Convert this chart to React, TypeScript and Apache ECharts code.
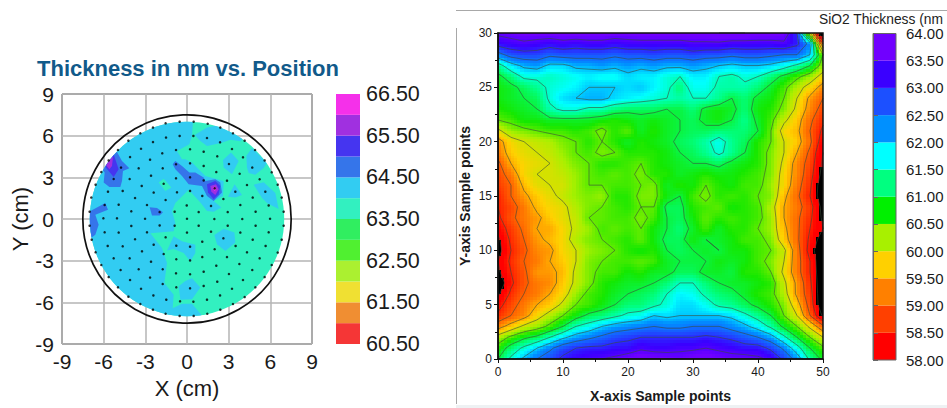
import React, { useEffect, useRef } from "react";
import * as echarts from "echarts";

const FONT = "Liberation Sans";

// ---------- left chart data (cm) ----------
const leftLegendValues = [60.5, 61, 61.5, 62, 62.5, 63, 63.5, 64, 64.5, 65, 65.5, 66, 66.5];
const leftLegendColors = ["#F53636", "#F08E32", "#F0E032", "#ABF030", "#50F030", "#30EE60", "#32F0C0", "#32CCF2", "#3575EA", "#4535F0", "#A030E0", "#F530EA"];
const AQUA = "#32F0C0", SKY = "#32CCF2", BLUE = "#3575EA", INDIGO = "#4535F0", PURPLE = "#A030E0", MAGENTA = "#F530EA";

const skyMain = [[0.43,8.11],[-8.64,8.11],[-8.64,-8.21],[0.96,-8.21],[1.03,-6.89],[0.36,-6.1],[-0.36,-6.1],[-1.03,-6.43],[-0.96,-5.45],[-1.63,-4.61],[-1.44,-3.17],[-1.8,-2.09],[-2.64,-1.03],[-0.96,-0.89],[-0.84,-0.29],[-1.08,0.55],[-0.84,1.15],[0.12,2.11],[0.96,1.18],[1.44,0.58],[1.92,0.53],[2.47,0.82],[1.92,1.3],[2.59,1.66],[2.64,2.74],[1.32,3.1],[0.36,4.06],[-0.12,4.3],[-0.36,4.3],[-0.72,4.9],[0.17,5.38],[0.36,6],[0.43,7.03]];
const skyTop = [[0.55,6.05],[1.44,6.58],[2.4,6.79],[3.12,6.55],[4.08,5.83],[3.84,5.59],[3.12,5.71],[2.45,5.47],[1.44,5.26],[0.96,5.62]];
const skyB = [[2.59,4.25],[3.17,4.78],[3.72,4.18],[3.24,3.22],[2.64,3.7]];
const skyC = [[4.27,4.54],[4.68,5.11],[5.76,4.03],[5.52,3.67],[4.92,3.19],[4.44,3.31],[4.32,3.7]];
const skyD = [[2.95,1.61],[3.43,2.5],[3.96,1.73],[3.48,1.54]];
const skyE = [[4.8,2.47],[5.52,2.64],[6.36,1.87],[6.6,0.72],[5.76,1.15],[5.4,1.51]];
const skyG = [[1.97,-1.15],[2.64,-0.7],[3.41,-0.98],[3.48,-1.7],[2.76,-2.3],[2.16,-1.82]];
const skyH = [[-1.44,-2.26],[-0.96,-1.25],[-0.36,-1.61],[0.6,-1.85],[0.6,-2.45],[0.24,-3.05],[-0.24,-2.45],[-0.96,-2.16]];
const skyI = [[-0.6,-4.85],[-0.12,-4.46],[0.36,-4.27],[0.96,-4.94],[0.36,-5.78],[-0.48,-5.81]];
const aquaBlob = [[-2.04,2.62],[-1.68,2.9],[-1.13,2.26],[-1.56,2.02]];
const ridgeBlue = [[-1.03,3.94],[-0.84,4.18],[-0.36,3.82],[0.17,3.34],[0.6,3.34],[1.2,2.98],[1.32,2.74],[2.04,2.86],[2.4,2.62],[2.52,1.9],[1.92,1.3],[1.44,1.66],[1.08,2.38],[0.12,2.5],[-0.36,3.1],[-0.84,3.58]];
const peakIndigo = [[1.44,2.5],[2.04,2.74],[2.4,2.38],[2.28,1.78],[1.92,1.42],[1.51,1.9]];
const peakPurple = [[1.68,2.38],[2.09,2.5],[2.28,2.14],[2.04,1.73],[1.75,1.97]];
const peakMagenta = [[1.85,2.28],[2.06,2.33],[2.09,2.11],[1.97,2.02]];
const leftBlue = [[-6.48,4.03],[-5.28,4.99],[-5.04,4.82],[-4.68,4.18],[-4.15,3.65],[-4.61,3.46],[-4.68,2.74],[-4.8,2.3],[-5.59,2.3],[-6,2.62],[-5.93,3.34]];
const leftIndigo = [[-5.28,4.66],[-5.04,3.94],[-4.92,3.58],[-5.28,3.02],[-5.88,3.74],[-5.52,4.3]];
const leftPurple = [[-5.59,4.37],[-5.33,4.46],[-5.4,3.82],[-5.59,3.58],[-5.83,3.89]];
const midBlue = [[-7.44,0.31],[-5.88,1.15],[-5.69,0.67],[-6.6,0.31],[-6.36,-0.41],[-6.6,-1.13],[-7.08,-1.49],[-7.44,-1.01]];
const smallBlue = [[-2.69,0.84],[-2.16,0.79],[-1.73,0.48],[-1.97,0.26],[-2.52,0.26]];

const regions: { fill: string; points: number[][] }[] = [
  { fill: SKY, points: skyMain }, { fill: SKY, points: skyTop }, { fill: SKY, points: skyB }, { fill: SKY, points: skyC },
  { fill: SKY, points: skyD }, { fill: SKY, points: skyE }, { fill: SKY, points: skyG }, { fill: SKY, points: skyH }, { fill: SKY, points: skyI },
  { fill: AQUA, points: aquaBlob },
  { fill: BLUE, points: ridgeBlue }, { fill: BLUE, points: leftBlue }, { fill: BLUE, points: midBlue }, { fill: BLUE, points: smallBlue },
  { fill: INDIGO, points: peakIndigo }, { fill: INDIGO, points: leftIndigo },
  { fill: PURPLE, points: peakPurple }, { fill: PURPLE, points: leftPurple },
  { fill: MAGENTA, points: peakMagenta },
];

const samplePoints = [
  [-0.53,7.01],[-1.54,6.89],[-2.45,6.58],[-3.36,6.17],[-4.22,5.64],[-4.97,4.97],[-5.64,4.22],[-6.17,3.38],[-6.58,2.47],[-6.89,1.54],[-7.01,0.53],
  [-0.53,5.98],[-1.51,5.86],[-2.45,5.54],[-3.31,5.06],[-4.1,4.46],[-4.75,3.7],[-5.28,2.88],[-5.69,1.97],[-5.93,1.01],[-6.02,0.05],
  [-0.79,4.97],[-1.78,4.73],[-2.66,4.27],[-3.48,3.65],[-4.13,2.88],[-4.63,2.02],[-4.92,1.03],[-5.04,0.05],
  [-0.79,3.94],[-1.75,3.65],[-2.59,3.12],[-3.26,2.38],[-3.74,1.51],[-4.01,0.55],
  [-0.79,2.93],[-1.68,2.54],[-2.4,1.9],[-2.88,1.01],[-3.02,0.02],
  [-0.72,1.92],[-1.54,1.37],[-1.97,0.5],[-0.89,0.53],[-0.02,0.98],[0,0.02],
  [0.48,7.01],[1.49,6.86],[2.4,6.58],[3.31,6.17],[4.15,5.64],[4.9,4.97],[5.59,4.22],[6.1,3.36],[6.53,2.47],[6.82,1.54],[6.96,0.53],
  [0.46,5.98],[1.44,5.83],[2.38,5.52],[3.24,5.04],[4.03,4.44],[4.7,3.7],[5.23,2.86],[5.64,1.97],[5.88,0.98],[5.98,0.02],
  [0.22,5.02],[1.2,4.85],[2.18,4.51],[3.02,3.96],[3.79,3.26],[4.32,2.45],[4.73,1.54],[4.94,0.53],
  [0.22,4.01],[1.2,3.82],[2.11,3.38],[2.88,2.76],[3.48,1.97],[3.84,1.01],[3.98,0],
  [0.22,3],[1.2,2.78],[1.99,2.21],[2.62,1.44],[2.93,0.5],
  [0.22,2.02],[1.1,1.66],[1.73,0.94],[1.97,0],[0.84,0.5],
  [-7.01,-0.48],[-6.86,-1.49],[-6.58,-2.4],[-6.17,-3.31],[-5.64,-4.18],[-4.97,-4.92],[-4.22,-5.59],[-3.36,-6.12],[-2.45,-6.53],[-1.54,-6.82],[-0.53,-6.98],
  [-5.93,-0.96],[-5.71,-1.94],[-5.28,-2.83],[-4.78,-3.67],[-4.1,-4.39],[-3.31,-5.02],[-2.42,-5.5],[-1.49,-5.81],[-0.5,-5.93],
  [-4.92,-0.98],[-4.63,-1.97],[-4.13,-2.83],[-3.48,-3.62],[-2.66,-4.22],[-1.75,-4.68],[-0.77,-4.92],
  [-4.01,-0.5],[-3.74,-1.46],[-3.24,-2.33],[-2.59,-3.07],[-1.75,-3.62],[-0.79,-3.91],
  [-2.88,-0.96],[-2.4,-1.85],[-1.68,-2.52],[-0.77,-2.9],
  [-1.97,-0.46],[-1.54,-1.32],[-0.77,-1.92],[-0.89,-0.48],[0,-0.98],
  [6.96,-0.48],[6.82,-1.49],[6.53,-2.42],[6.1,-3.31],[5.59,-4.18],[4.92,-4.92],[4.15,-5.62],[3.31,-6.12],[2.4,-6.53],[1.46,-6.82],[0.48,-6.98],
  [5.88,-0.96],[5.66,-1.94],[5.23,-2.83],[4.7,-3.67],[4.03,-4.39],[3.24,-5.02],[2.38,-5.5],[1.44,-5.81],[0.46,-5.95],
  [4.94,-0.48],[4.73,-1.49],[4.32,-2.4],[3.77,-3.24],[3.02,-3.96],[2.18,-4.51],[1.2,-4.82],[0.22,-4.99],
  [3.84,-0.98],[3.5,-1.94],[2.88,-2.74],[2.11,-3.36],[1.2,-3.79],[0.22,-3.98],
  [2.93,-0.48],[2.62,-1.39],[1.99,-2.18],[1.1,-2.74],[0.22,-2.98],
  [1.73,-0.91],[1.1,-1.63],[0.22,-1.99],[0.84,-0.48],
];

// ---------- right chart data (nm), x = 0,2,...,50 ; y = 30 down to 0 ----------
const xSamples = [0,2,4,6,8,10,12,14,16,18,20,22,24,26,28,30,32,34,36,38,40,42,44,46,48,50];
const ySamples = [30,29,28,27,26,25,24,23,22,21,20,19,18,17,16,15,14,13,12,11,10,9,8,7,6,5,4,3,2,1,0];
const thickness = [
  [63.6,63.7,63.8,63.8,63.8,63.9,63.9,63.9,63.9,63.8,63.8,63.9,63.9,63.9,63.9,63.9,63.9,64.0,64.0,64.0,63.9,63.9,63.8,63.0,60.0,57.0],
  [63.2,63.3,63.4,63.3,63.2,63.3,63.2,63.3,63.3,63.2,63.3,63.3,63.3,63.3,63.3,63.4,63.4,63.4,63.3,63.3,63.3,63.3,63.4,63.1,62.3,59.0],
  [62.3,62.7,62.8,62.8,62.6,62.7,62.7,62.7,62.7,62.6,62.7,62.7,62.8,62.7,62.7,62.8,62.7,62.7,62.6,62.7,62.7,62.6,62.5,62.5,62.0,60.5],
  [61.3,61.8,62.1,62.2,61.9,61.9,62.1,62.1,62.2,62.1,62.2,62.1,62.2,62.1,62.1,62.2,62.1,62.0,61.9,62.0,62.0,61.9,61.7,61.4,61.0,60.3],
  [60.9,61.2,61.6,61.6,61.5,61.6,61.7,61.8,61.7,61.7,61.9,61.8,61.8,61.6,61.5,61.8,61.8,61.5,61.4,61.6,61.5,61.2,60.9,60.6,60.3,59.8],
  [60.8,60.9,61.1,61.3,61.6,61.7,61.8,62.0,62.0,62.0,61.9,62.0,61.8,61.6,61.2,61.7,61.7,61.4,61.4,61.4,61.2,60.9,60.6,60.2,59.8,59.3],
  [60.8,60.9,61.0,61.1,61.6,61.9,62.0,62.1,62.1,61.9,61.8,61.7,61.6,61.5,61.4,61.5,61.5,61.3,61.0,61.2,60.9,60.8,60.5,60.0,59.4,59.0],
  [60.7,60.8,60.9,61.0,61.4,61.6,61.6,61.4,61.4,61.2,61.1,61.1,61.1,61.0,61.0,61.2,60.9,60.8,60.9,61.2,60.8,60.7,60.4,59.9,59.3,58.8],
  [60.5,60.6,60.8,60.8,60.9,60.9,60.9,60.9,60.8,60.7,60.8,60.9,60.8,60.9,61.0,61.1,60.9,60.8,61.0,61.3,60.9,60.6,60.1,59.7,59.1,58.6],
  [59.9,60.3,60.4,60.5,60.6,60.6,60.7,60.6,60.4,60.7,60.5,60.9,60.7,60.9,61.0,61.1,61.1,61.2,61.2,61.2,61.0,60.5,59.8,59.6,59.0,58.4],
  [59.3,59.8,60.0,60.1,60.2,60.4,60.5,60.7,60.5,60.7,60.9,60.7,60.8,60.9,61.1,61.2,61.4,61.7,61.3,61.1,60.7,60.5,60.0,59.7,59.1,58.2],
  [59.2,59.7,59.9,60.0,60.1,60.3,60.5,60.6,60.4,60.5,60.7,60.7,60.7,60.8,61.0,61.1,61.3,61.6,61.3,61.0,60.7,60.4,60.0,59.5,58.9,58.0],
  [58.9,59.5,59.8,59.9,60.0,60.2,60.4,60.5,60.7,60.7,60.6,60.5,60.7,60.8,60.9,61.0,61.0,61.1,60.9,60.8,60.7,60.4,59.9,59.3,58.8,57.9],
  [58.8,59.2,59.8,60.0,60.0,60.1,60.3,60.5,60.6,60.5,60.6,60.4,60.7,60.7,60.9,60.8,60.7,60.8,60.8,60.7,60.6,60.4,59.8,59.3,58.7,57.8],
  [58.7,59.0,59.6,59.9,60.0,60.0,60.3,60.5,60.5,60.6,60.6,60.5,60.4,60.9,60.7,60.8,60.5,60.7,60.8,60.6,60.6,60.3,59.8,59.2,58.6,57.6],
  [58.5,59.0,59.4,59.7,59.9,60.1,60.3,60.4,60.3,60.7,60.7,60.4,60.4,60.8,61.0,60.6,60.4,60.7,60.6,60.7,60.5,60.4,59.6,59.1,58.5,57.6],
  [58.5,58.8,59.2,59.6,59.8,59.9,60.2,60.4,60.5,60.6,60.7,60.5,60.5,61.1,61.1,60.7,60.6,60.5,60.8,60.7,60.6,60.2,59.5,59.2,58.7,57.8],
  [58.4,58.9,59.2,59.4,59.7,59.9,60.1,60.5,60.5,60.6,60.6,60.4,60.6,61.0,61.1,60.8,60.5,60.7,60.6,60.7,60.6,60.3,59.5,59.1,58.6,57.9],
  [58.2,58.7,59.1,59.5,59.5,59.8,60.1,60.3,60.6,60.5,60.6,60.5,60.8,61.0,61.2,60.9,60.6,60.9,60.7,60.7,60.5,60.3,59.6,59.1,58.5,58.0],
  [57.9,58.6,59.0,59.4,59.6,59.8,60.2,60.4,60.5,60.6,60.7,60.5,60.8,61.1,61.1,60.8,61.0,60.9,60.8,60.6,60.6,60.4,59.7,59.1,58.4,57.7],
  [57.8,58.5,58.9,59.3,59.4,59.8,60.0,60.3,60.4,60.5,60.7,60.8,60.7,61.0,61.1,61.0,60.9,61.0,60.8,60.8,60.6,60.5,60.1,59.2,58.3,57.4],
  [58.0,58.6,59.0,59.2,59.5,59.7,60.0,60.4,60.5,60.6,60.6,60.5,60.6,60.9,61.0,61.0,61.0,60.8,60.9,60.8,60.6,60.4,60.0,59.2,58.5,57.4],
  [57.9,58.5,58.9,59.4,59.4,59.6,60.1,60.4,60.6,60.6,60.8,60.7,60.9,60.9,61.1,61.1,60.9,60.9,61.0,60.7,60.7,60.5,59.9,59.2,58.5,57.5],
  [57.6,58.4,58.9,59.2,59.3,59.7,60.1,60.4,60.7,60.8,60.9,60.9,61.0,61.2,61.5,61.5,61.2,61.0,60.9,60.9,60.8,60.7,60.1,59.4,58.6,57.5],
  [57.9,58.6,59.0,59.2,59.5,59.8,60.3,60.6,60.7,60.9,61.0,61.1,61.2,61.5,61.8,61.7,61.4,61.2,61.1,60.9,60.7,60.6,60.2,59.4,58.7,57.5],
  [58.3,58.8,59.2,59.5,59.7,60.1,60.5,60.6,60.8,61.0,61.2,61.2,61.4,61.6,61.9,61.9,61.7,61.4,61.3,61.1,60.9,60.7,60.4,59.7,58.8,57.5],
  [58.6,59.0,59.3,59.8,60.2,60.5,60.8,61.1,61.2,61.4,61.6,61.7,62.0,61.9,62.0,62.0,62.0,62.0,61.9,61.6,61.3,61.0,60.5,60.0,59.0,57.9],
  [59.3,59.7,60.1,60.3,60.6,61.0,61.5,61.7,62.0,62.2,62.3,62.4,62.5,62.4,62.4,62.5,62.5,62.5,62.3,62.1,61.8,61.4,60.9,60.5,59.9,59.1],
  [60.2,60.6,60.9,61.1,61.5,61.9,62.2,62.4,62.6,62.8,62.9,63.0,63.0,63.0,63.0,63.0,63.1,63.0,62.9,62.7,62.5,62.2,61.6,61.0,60.5,60.0],
  [60.7,61.2,61.6,62.0,62.4,62.8,63.0,63.1,63.1,63.2,63.2,63.4,63.3,63.3,63.4,63.4,63.5,63.4,63.3,63.2,63.2,62.9,62.4,61.7,61.0,60.6],
  [61.0,61.6,62.1,62.5,62.8,63.1,63.3,63.4,63.5,63.6,63.8,64.0,63.9,63.8,63.7,63.9,64.0,63.8,63.7,63.7,63.6,63.4,62.9,62.3,61.4,60.9],
];
const contourLevels = [58,58.5,59,59.5,60,60.5,61,61.5,62,62.5,63,63.5,64];
const rightLegendValues = [58,58.5,59,59.5,60,60.5,61,61.5,62,62.5,63,63.5,64];
const rightLegendColors = ["#FF0000","#FF4000","#FF8000","#FFD000","#A8F000","#00F000","#00FF80","#00FFFF","#0090FF","#1C50FF","#3A00FF","#7000FF"];
const rampValues = [58.25,58.75,59.25,59.75,60.25,60.75,61.25,61.75,62.25,62.75,63.25,63.75];
const rampRGB = [[255,0,0],[255,64,0],[255,128,0],[255,210,0],[168,240,0],[20,232,0],[0,255,128],[0,255,255],[0,144,255],[28,80,255],[58,0,255],[112,0,255]];

function sampleAt(x: number, y: number) {
  const fx = Math.min(x / 2, xSamples.length - 1.0001);
  const fr = Math.min(30 - y, ySamples.length - 1.0001);
  const i = Math.floor(fx), j = Math.floor(fr), a = fx - i, b = fr - j;
  return (thickness[j][i] * (1 - a) + thickness[j][i + 1] * a) * (1 - b) + (thickness[j + 1][i] * (1 - a) + thickness[j + 1][i + 1] * a) * b;
}
function colorOf(v: number) {
  if (v < 58 || v > 64.15) return "#000";
  const n = rampValues.length;
  if (v <= rampValues[0]) return `rgb(${rampRGB[0].join(",")})`;
  if (v >= rampValues[n - 1]) return `rgb(${rampRGB[n - 1].join(",")})`;
  let k = 0;
  while (v > rampValues[k + 1]) k++;
  const t = (v - rampValues[k]) / (rampValues[k + 1] - rampValues[k]);
  const c = rampRGB[k].map((p, q) => Math.round(p + (rampRGB[k + 1][q] - p) * t));
  return `rgb(${c.join(",")})`;
}
const STEP_X = 0.5, STEP_Y = 0.25;
function heatCells() {
  const out: number[][] = [];
  for (let ix = 0; ix < 100; ix++) for (let iy = 0; iy < 120; iy++) {
    const x = ix * STEP_X, y = iy * STEP_Y;
    out.push([x, y, sampleAt(x + STEP_X / 2, y + STEP_Y / 2)]);
  }
  return out;
}
function contourSegments() {
  const segs: number[][] = [];
  for (const lv of contourLevels) {
    for (let j = 0; j < ySamples.length - 1; j++) for (let i = 0; i < xSamples.length - 1; i++) {
      const c = [
        [xSamples[i], ySamples[j], thickness[j][i]],
        [xSamples[i + 1], ySamples[j], thickness[j][i + 1]],
        [xSamples[i + 1], ySamples[j + 1], thickness[j + 1][i + 1]],
        [xSamples[i], ySamples[j + 1], thickness[j + 1][i]],
      ];
      const hits: number[][] = [];
      for (let e = 0; e < 4; e++) {
        const p = c[e], q = c[(e + 1) % 4];
        if ((p[2] < lv) !== (q[2] < lv)) {
          const t = (lv - p[2]) / (q[2] - p[2]);
          hits.push([p[0] + (q[0] - p[0]) * t, p[1] + (q[1] - p[1]) * t]);
        }
      }
      if (hits.length >= 2) segs.push([hits[0][0], hits[0][1], hits[1][0], hits[1][1]]);
      if (hits.length === 4) segs.push([hits[2][0], hits[2][1], hits[3][0], hits[3][1]]);
    }
  }
  return segs;
}

const legendBands = (vals: number[]) => vals.slice(0, -1).map((v, i) => [0, v, vals[i + 1], i]);

function buildOption() {
  const labelBase = { fontFamily: FONT, color: "#1a1a1a" };
  const hiddenX = (gridIndex: number) => ({ type: "value", gridIndex, min: 0, max: 1, show: false });
  const bandSeries = (axisIndex: number, vals: number[], colors: string[]) => ({
    type: "custom", xAxisIndex: axisIndex, yAxisIndex: axisIndex, data: legendBands(vals), clip: false, silent: true,
    renderItem: (_: any, api: any) => {
      const p1 = api.coord([0, api.value(2)]), p2 = api.coord([1, api.value(1)]);
      return { type: "rect", shape: { x: p1[0], y: p1[1], width: p2[0] - p1[0], height: p2[1] - p1[1] }, style: { fill: colors[api.value(3)] } };
    },
  });
  return {
    animation: false,
    backgroundColor: "#fff",
    textStyle: { fontFamily: FONT },
    title: [
      { text: "Thickness in nm vs. Position", left: 32, top: 52, textStyle: { fontFamily: FONT, fontSize: 22, fontWeight: "bold", color: "#115A8A" } },
      { text: "SiO2 Thickness (nm", left: 814, top: 7, textStyle: { fontFamily: FONT, fontSize: 13.8, fontWeight: "normal", color: "#222" } },
    ],
    grid: [
      { left: 62, top: 94, width: 250, height: 250, show: true, borderColor: "#222", borderWidth: 1, backgroundColor: "#fff" },
      { left: 336, top: 94, width: 24, height: 250 },
      { left: 498, top: 33, width: 325, height: 327, show: true, borderColor: "#111", borderWidth: 1.5, z: 5 },
      { left: 873, top: 33.5, width: 23, height: 326.5, show: true, borderColor: "#666", borderWidth: 1, z: 5 },
    ],
    xAxis: [
      { type: "value", gridIndex: 0, min: -9, max: 9, interval: 3, name: "X (cm)", nameLocation: "middle", nameGap: 33,
        nameTextStyle: { ...labelBase, fontSize: 22 }, axisLine: { show: false }, axisTick: { show: false },
        splitLine: { show: true, lineStyle: { color: "#B4B4B4", width: 1.5 } }, axisLabel: { ...labelBase, fontSize: 21, margin: 7 } },
      hiddenX(1),
      { type: "value", gridIndex: 2, min: 0, max: 50, interval: 10, name: "X-axis Sample points", nameLocation: "middle", nameGap: 30, z: 6,
        nameTextStyle: { ...labelBase, fontSize: 14, fontWeight: "bold" },
        axisLine: { lineStyle: { color: "#111", width: 1.5 } }, axisTick: { length: 4, lineStyle: { color: "#111" } },
        minorTick: { show: true, splitNumber: 2, length: 3, lineStyle: { color: "#111" } }, splitLine: { show: false },
        axisLabel: { ...labelBase, fontSize: 12, margin: 7 } },
      hiddenX(3),
    ],
    yAxis: [
      { type: "value", gridIndex: 0, min: -9, max: 9, interval: 3, name: "Y (cm)", nameLocation: "middle", nameGap: 31,
        nameTextStyle: { ...labelBase, fontSize: 22 }, axisLine: { show: false }, axisTick: { show: false },
        splitLine: { show: true, lineStyle: { color: "#B4B4B4", width: 1.5 } }, axisLabel: { ...labelBase, fontSize: 21, margin: 8 } },
      { type: "value", gridIndex: 1, min: 60.5, max: 66.5, interval: 0.5, position: "right", axisLine: { show: false }, axisTick: { show: false }, splitLine: { show: false },
        axisLabel: { ...labelBase, fontSize: 21.5, margin: 6, formatter: (v: number) => (Math.round(v * 10) % 10 === 5 ? v.toFixed(2) : "") } },
      { type: "value", gridIndex: 2, min: 0, max: 30, interval: 5, name: "Y-axis Sample points", nameLocation: "middle", nameGap: 26, z: 6,
        nameTextStyle: { ...labelBase, fontSize: 14, fontWeight: "bold" },
        axisLine: { lineStyle: { color: "#111", width: 1.5 } }, axisTick: { length: 4, lineStyle: { color: "#111" } },
        minorTick: { show: true, splitNumber: 2, length: 3, lineStyle: { color: "#111" } }, splitLine: { show: false },
        axisLabel: { ...labelBase, fontSize: 12, margin: 6 } },
      { type: "value", gridIndex: 3, min: 58, max: 64, interval: 0.5, position: "right", z: 6, axisLine: { lineStyle: { color: "#666" } },
        axisTick: { length: 5, lineStyle: { color: "#666" } }, splitLine: { show: false },
        axisLabel: { ...labelBase, fontSize: 15, margin: 10, formatter: (v: number) => v.toFixed(2) } },
    ],
    series: [
      { type: "custom", xAxisIndex: 0, yAxisIndex: 0, data: [[0, 0, 7]], silent: true, clip: false, z: 2,
        renderItem: (_: any, api: any) => {
          const c = api.coord([0, 0]); const r = api.size([7, 0])[0];
          return { type: "circle", shape: { cx: c[0], cy: c[1], r }, style: { fill: AQUA } };
        } },
      { type: "custom", xAxisIndex: 0, yAxisIndex: 0, data: regions.map((_, i) => [i, 0]), silent: true, clip: false, z: 3,
        renderItem: (p: any, api: any) => {
          const c = api.coord([0, 0]); const r = api.size([7, 0])[0];
          const reg = regions[p.dataIndex];
          return { type: "polygon", shape: { points: reg.points.map((q) => api.coord(q)) }, style: { fill: reg.fill },
            clipPath: { type: "circle", shape: { cx: c[0], cy: c[1], r } } };
        } },
      { type: "custom", xAxisIndex: 0, yAxisIndex: 0, data: [[0, 0, 7.5]], silent: true, clip: false, z: 4,
        renderItem: (_: any, api: any) => {
          const c = api.coord([0, 0]); const r = api.size([7.5, 0])[0];
          return { type: "circle", shape: { cx: c[0], cy: c[1], r }, style: { fill: "none", stroke: "#111", lineWidth: 1.7 } };
        } },
      { type: "scatter", xAxisIndex: 0, yAxisIndex: 0, data: samplePoints, symbolSize: 2.5, itemStyle: { color: "#000" }, silent: true, z: 5 },
      bandSeries(1, leftLegendValues, leftLegendColors),
      { type: "custom", xAxisIndex: 2, yAxisIndex: 2, data: heatCells(), silent: true, z: 2,
        renderItem: (_: any, api: any) => {
          const x = api.value(0), y = api.value(1);
          const p1 = api.coord([x, y + STEP_Y]), p2 = api.coord([x + STEP_X, y]);
          const l = Math.floor(p1[0]), t = Math.floor(p1[1]);
          return { type: "rect", shape: { x: l, y: t, width: Math.ceil(p2[0]) - l, height: Math.ceil(p2[1]) - t }, style: { fill: colorOf(api.value(2)) } };
        } },
      { type: "custom", xAxisIndex: 2, yAxisIndex: 2, data: contourSegments(), silent: true, z: 3,
        renderItem: (_: any, api: any) => {
          const a = api.coord([api.value(0), api.value(1)]), b = api.coord([api.value(2), api.value(3)]);
          return { type: "line", shape: { x1: a[0], y1: a[1], x2: b[0], y2: b[1] }, style: { stroke: "#3a4a3a", lineWidth: 0.8, opacity: 0.75 } };
        } },
      bandSeries(3, rightLegendValues, rightLegendColors),
    ],
    graphic: [
      { type: "line", shape: { x1: 456, y1: 10.5, x2: 947, y2: 10.5 }, style: { stroke: "#A8A8A8", lineWidth: 1 } },
      { type: "line", shape: { x1: 456.5, y1: 28, x2: 456.5, y2: 404 }, style: { stroke: "#A8A8A8", lineWidth: 1 } },
      { type: "rect", shape: { x: 456, y: 405, width: 491, height: 3 }, style: { fill: "#EEF1F3" } },
    ],
  };
}

export default function App() {
  const ref = useRef<HTMLDivElement>(null);
  useEffect(() => {
    const chart = echarts.init(ref.current!, undefined, { renderer: "svg" });
    chart.setOption(buildOption() as any);
    return () => chart.dispose();
  }, []);
  return <div ref={ref} style={{ position: "absolute", left: 0, top: 0, width: 947, height: 408 }} />;
}
